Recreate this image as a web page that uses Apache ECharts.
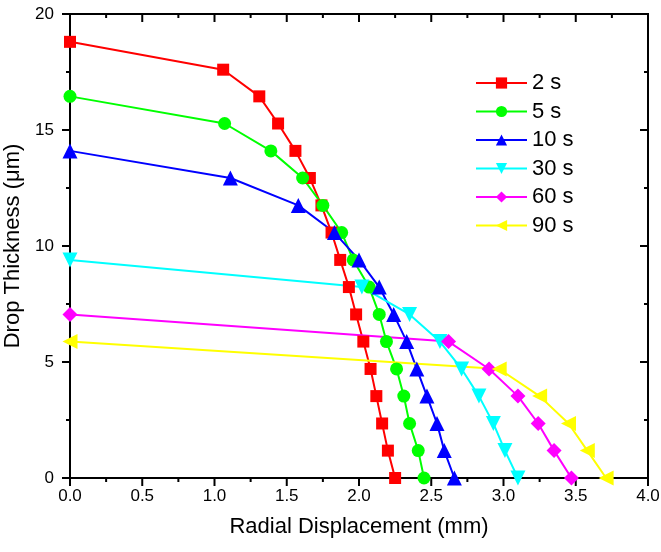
<!DOCTYPE html>
<html>
<head>
<meta charset="utf-8">
<script src="https://cdn.jsdelivr.net/npm/echarts@6/dist/echarts.min.js"></script>
<style>
  html, body { margin: 0; padding: 0; background: #fff; }
  #chart { width: 661px; height: 552px; }
</style>
</head>
<body>
<div id="chart"></div>
<script>
var seriesNames = ['2 s', '5 s', '10 s', '30 s', '60 s', '90 s']

// radial displacement (mm) and drop thickness (um), top point first
var x2s = [0, 1.06, 1.31, 1.44, 1.56, 1.66, 1.74, 1.81, 1.87, 1.93, 1.98, 2.03, 2.08, 2.12, 2.16, 2.20, 2.25]
var y2s = [18.8, 17.6, 16.45, 15.28, 14.1, 12.93, 11.75, 10.58, 9.4, 8.23, 7.05, 5.88, 4.7, 3.53, 2.35, 1.18, 0]

var x5s = [0, 1.07, 1.39, 1.61, 1.75, 1.88, 1.96, 2.07, 2.14, 2.19, 2.26, 2.31, 2.35, 2.41, 2.45]
var y5s = [16.45, 15.28, 14.1, 12.93, 11.75, 10.58, 9.4, 8.23, 7.05, 5.88, 4.7, 3.53, 2.35, 1.18, 0]

var x10s = [0, 1.11, 1.58, 1.83, 2.00, 2.14, 2.24, 2.33, 2.40, 2.47, 2.54, 2.59, 2.66]
var y10s = [14.1, 12.93, 11.75, 10.58, 9.4, 8.23, 7.05, 5.88, 4.7, 3.53, 2.35, 1.18, 0]

var x30s = [0, 2.02, 2.35, 2.56, 2.71, 2.83, 2.93, 3.01, 3.10]
var y30s = [9.4, 8.23, 7.05, 5.88, 4.7, 3.53, 2.35, 1.18, 0]

var x60s = [0, 2.62, 2.90, 3.10, 3.24, 3.35, 3.47]
var y60s = [7.05, 5.88, 4.7, 3.53, 2.35, 1.18, 0]

var x90s = [0, 2.97, 3.25, 3.45, 3.58, 3.71]
var y90s = [5.88, 4.7, 3.53, 2.35, 1.18, 0]

// tick values (major get labels, minor halfway between)
var xMajor = [0, 0.5, 1, 1.5, 2, 2.5, 3, 3.5, 4]
var xMinor = [0.25, 0.75, 1.25, 1.75, 2.25, 2.75, 3.25, 3.75]
var yMajor = [0, 5, 10, 15, 20]
var yMinor = [2.5, 7.5, 12.5, 17.5]

var colors = ['#ff0000', '#00ff00', '#0000ff', '#00ffff', '#ff00ff', '#ffff00']
var symbols = ['rect', 'circle', 'triangle', 'path://M0,0L10,0L5,10Z', 'diamond', 'path://M10,0L10,10L0,5Z']
var symbolSizes = [12, 13, 15, 15, 15, 15]

function pairs(xs, ys) {
  var out = []
  xs.forEach(function (x, i) { out.push([x, ys[i]]) })
  return out
}

var allData = [
  pairs(x2s, y2s), pairs(x5s, y5s), pairs(x10s, y10s),
  pairs(x30s, y30s), pairs(x60s, y60s), pairs(x90s, y90s)
]

var series = []
seriesNames.forEach(function (name, i) {
  series.push({
    name: name,
    type: 'line',
    data: allData[i],
    symbol: symbols[i],
    symbolSize: symbolSizes[i]
  })
})

// tick marks drawn through the axis scales: kind 0 x major, 1 x minor, 2 y major, 3 y minor
var tickData = []
xMajor.forEach(function (v) { tickData.push([v, 0]) })
xMinor.forEach(function (v) { tickData.push([v, 1]) })
yMajor.forEach(function (v) { tickData.push([v, 2]) })
yMinor.forEach(function (v) { tickData.push([v, 3]) })

function renderTick(params, api) {
  var v = api.value(0)
  var kind = api.value(1)
  var len = kind % 2 === 0 ? 8 : 4
  var st = { stroke: '#000', lineWidth: 2 }
  var a, b
  if (kind < 2) {
    a = api.coord([v, 0])
    b = api.coord([v, 20])
    return {
      type: 'group',
      children: [
        { type: 'line', shape: { x1: a[0], y1: a[1], x2: a[0], y2: a[1] + len }, style: st },
        { type: 'line', shape: { x1: b[0], y1: b[1], x2: b[0], y2: b[1] + len }, style: st }
      ]
    }
  }
  a = api.coord([0, v])
  b = api.coord([4, v])
  return {
    type: 'group',
    children: [
      { type: 'line', shape: { x1: a[0] - len, y1: a[1], x2: a[0], y2: a[1] }, style: st },
      { type: 'line', shape: { x1: b[0] - len, y1: b[1], x2: b[0], y2: b[1] }, style: st }
    ]
  }
}

series.push({
  type: 'custom',
  name: 'ticks',
  data: tickData,
  encode: { x: 0, y: 1 },
  renderItem: renderTick,
  clip: false,
  silent: true,
  z: 1
})

function frameAxis(opts, showLabel) {
  opts.axisLine = { show: true, onZero: false, lineStyle: { color: '#000000', width: 2 } }
  opts.axisTick = { show: false }
  opts.splitLine = { show: false }
  if (!showLabel) opts.axisLabel = { show: false }
  return opts
}

var chart = echarts.init(document.getElementById('chart'))
chart.setOption({
  animation: false,
  color: colors,
  grid: {
    left: 70, right: 13, top: 14, bottom: 74,
    containLabel: false, outerBoundsMode: 'none',
    show: true, borderColor: '#000', borderWidth: 2
  },
  legend: {
    data: seriesNames,
    orient: 'vertical',
    left: 475,
    top: 72,
    padding: 0,
    itemWidth: 51,
    itemHeight: 14,
    itemGap: 6.5,
    textStyle: { fontSize: 22, color: '#000' }
  },
  xAxis: [
    frameAxis({
      type: 'value', min: 0, max: 4, interval: 0.5, position: 'bottom',
      name: 'Radial Displacement (mm)', nameLocation: 'middle', nameGap: 38,
      nameTextStyle: { fontSize: 22, color: '#000' },
      axisLabel: {
        fontSize: 17, color: '#000', margin: 10,
        formatter: function (v) { return v.toFixed(1) }
      }
    }, true),
    frameAxis({ type: 'value', min: 0, max: 4, interval: 0.5, position: 'top' }, false)
  ],
  yAxis: [
    frameAxis({
      type: 'value', min: 0, max: 20, interval: 5, position: 'left',
      name: 'Drop Thickness (\u03bcm)', nameLocation: 'middle', nameGap: 41,
      nameTextStyle: { fontSize: 22, color: '#000' },
      axisLabel: { fontSize: 17, color: '#000', margin: 16 }
    }, true),
    frameAxis({ type: 'value', min: 0, max: 20, interval: 5, position: 'right' }, false)
  ],
  series: series
})
</script>
</body>
</html>
